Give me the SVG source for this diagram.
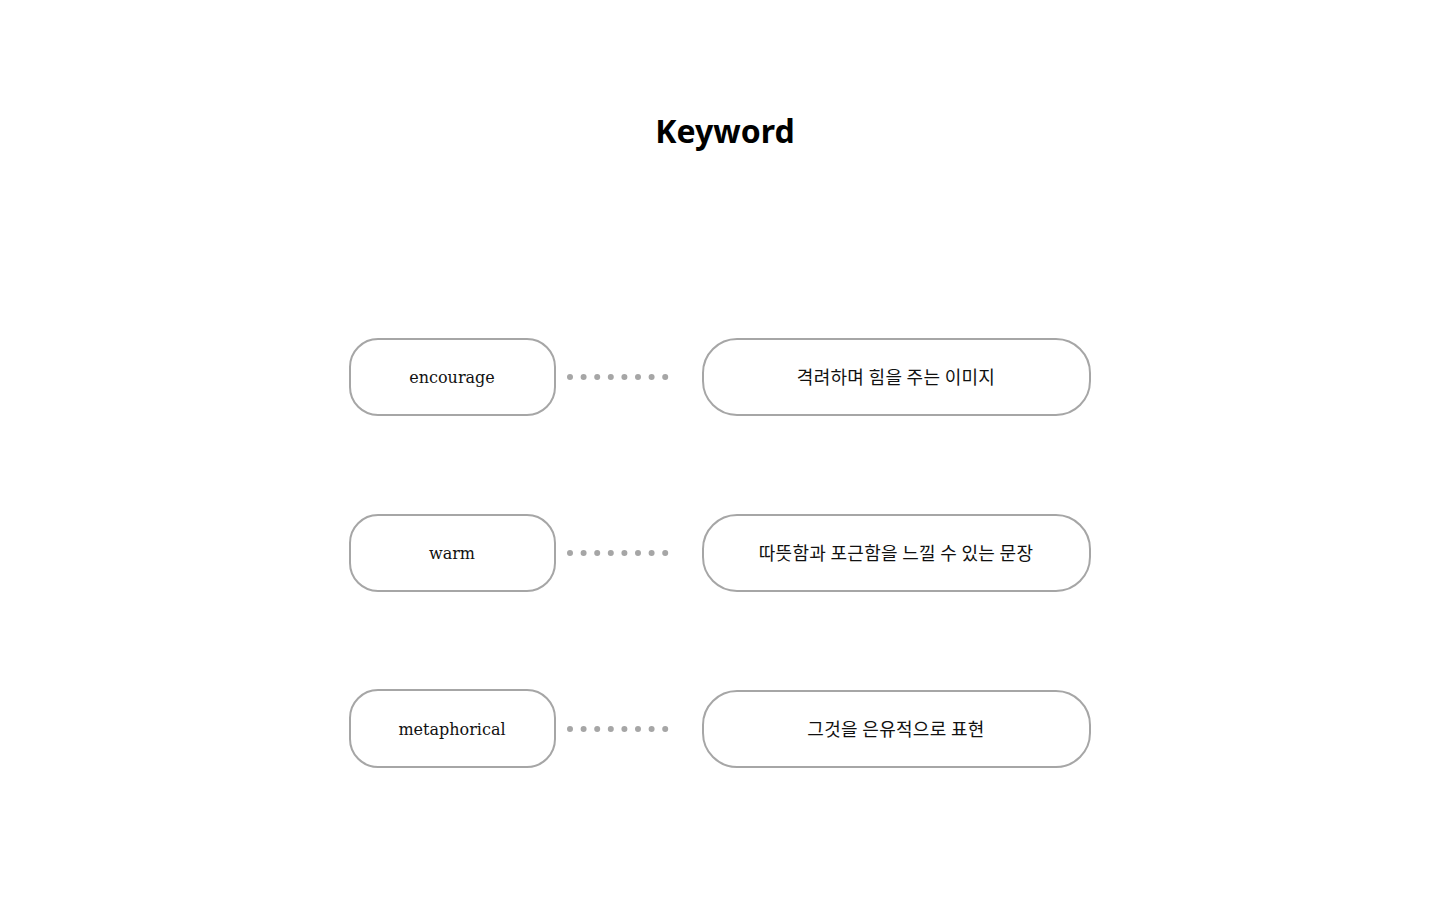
<svg xmlns="http://www.w3.org/2000/svg" width="1440" height="900" viewBox="0 0 1440 900">
<style>
.box{fill:#fff;stroke:#a6a6a6;stroke-width:2}
.en{font-family:"DejaVu Serif","Liberation Serif",serif;font-size:16px;fill:#111;text-anchor:middle;dominant-baseline:central}
.ko{font-family:"Noto Sans CJK KR","Noto Sans",sans-serif;font-size:18px;letter-spacing:0.3px;fill:#111;text-anchor:middle;dominant-baseline:central}
.dots{stroke:#a6a6a6;stroke-width:6;stroke-linecap:round;stroke-dasharray:0 13.6;fill:none}
</style>
<rect width="1440" height="900" fill="#fff"/>
<text x="725" y="130" font-family="Noto Sans, sans-serif" font-weight="bold" font-size="32" text-anchor="middle" dominant-baseline="central" fill="#000">Keyword</text>
<g id="connectors">
<path class="dots" d="M570 377H666"/>
<path class="dots" d="M570 553H666"/>
<path class="dots" d="M570 729H666"/>
</g>
<g id="k1"><rect class="box" x="350" y="339" width="205" height="76" rx="28"/><text class="en" x="452" y="377">encourage</text></g>
<g id="d1"><rect class="box" x="703" y="339" width="387" height="76" rx="34"/><text class="ko" x="896" y="376">격려하며 힘을 주는 이미지</text></g>
<g id="k2"><rect class="box" x="350" y="515" width="205" height="76" rx="28"/><text class="en" x="452" y="553">warm</text></g>
<g id="d2"><rect class="box" x="703" y="515" width="387" height="76" rx="34"/><text class="ko" x="896" y="552">따뜻함과 포근함을 느낄 수 있는 문장</text></g>
<g id="k3"><rect class="box" x="350" y="690" width="205" height="77" rx="28"/><text class="en" x="452" y="729">metaphorical</text></g>
<g id="d3"><rect class="box" x="703" y="691" width="387" height="76" rx="34"/><text class="ko" x="896" y="728">그것을 은유적으로 표현</text></g>
</svg>
